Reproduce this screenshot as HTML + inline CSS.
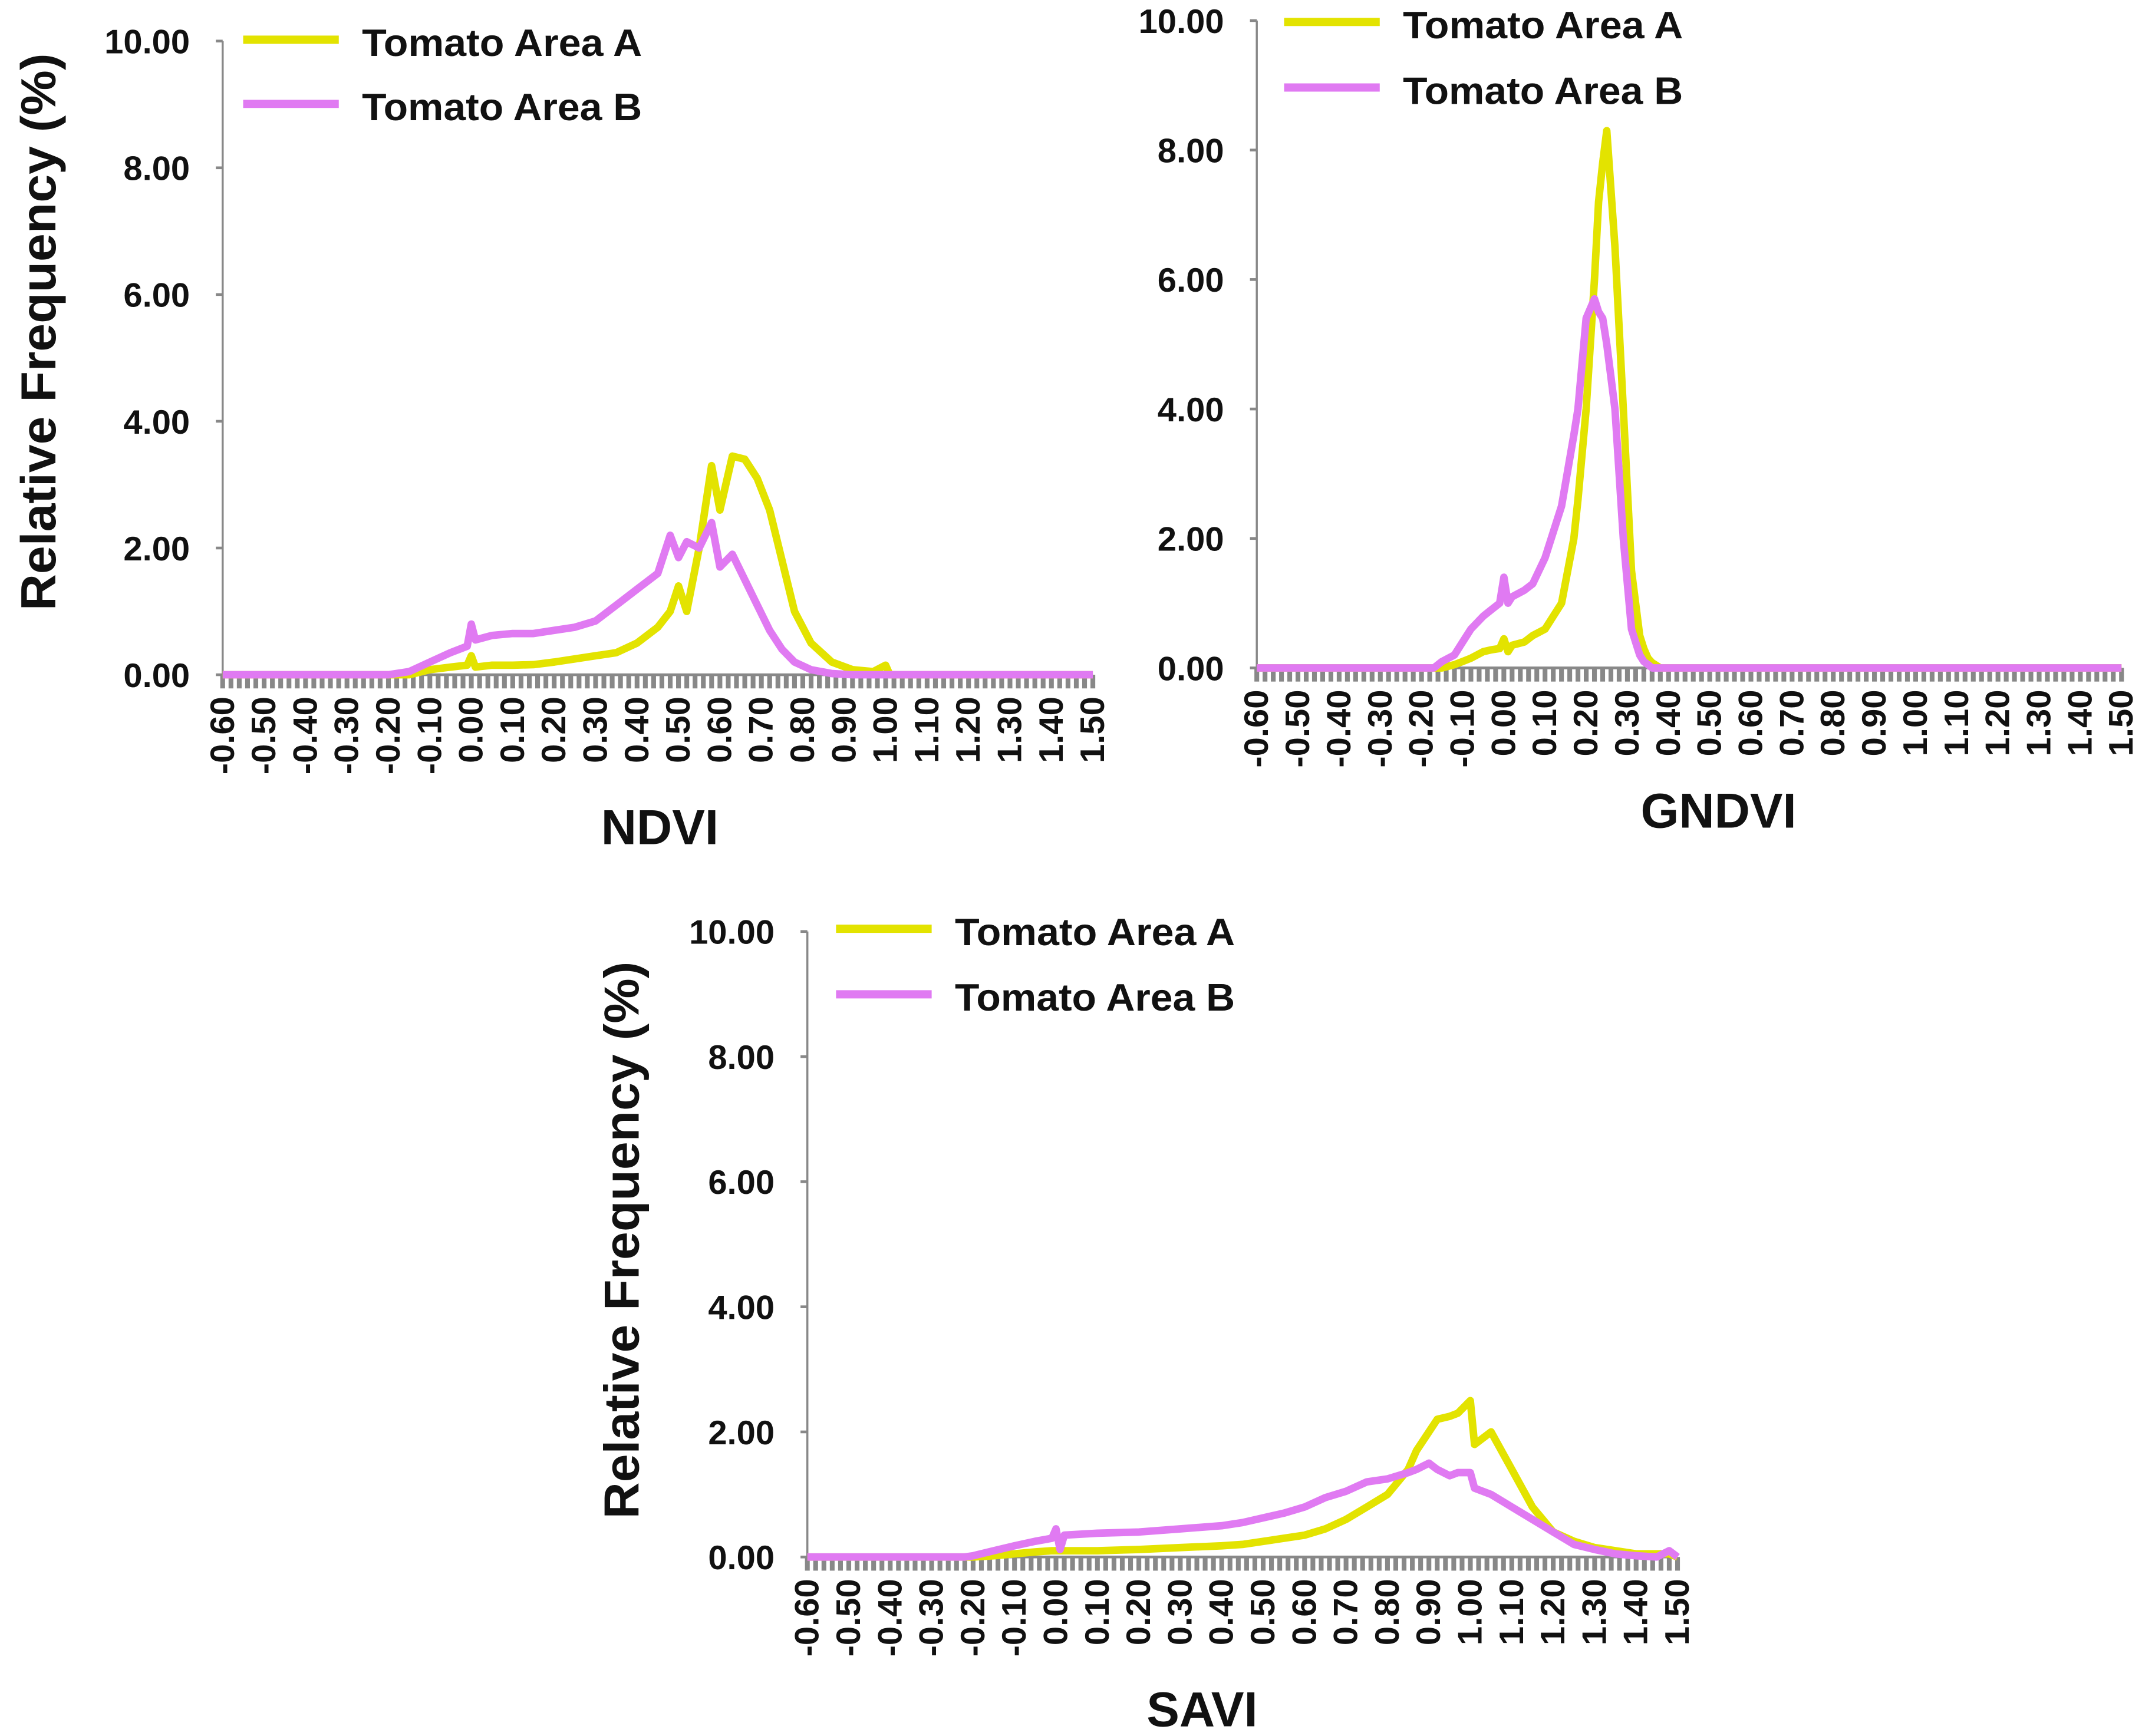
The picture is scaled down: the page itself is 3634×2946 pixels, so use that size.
<!DOCTYPE html>
<html><head><meta charset="utf-8"><style>
html,body{margin:0;padding:0;background:#fff;}
svg{display:block;}
text{font-family:"Liberation Sans",sans-serif;font-weight:bold;fill:#111;}
</style></head><body>
<svg id="fig" width="3634" height="2946" viewBox="0 0 1568 1271" xmlns="http://www.w3.org/2000/svg"></svg>
<script>
const yTicks = [0, 2, 4, 6, 8, 10];
const xTickLabels = ["-0.60","-0.50","-0.40","-0.30","-0.20","-0.10","0.00","0.10","0.20","0.30","0.40","0.50","0.60","0.70","0.80","0.90","1.00","1.10","1.20","1.30","1.40","1.50"];
const seriesNames = ["Tomato Area A", "Tomato Area B"];

const ndviX = [-0.6,-0.2,-0.15,-0.1,-0.05,-0.01,0.0,0.01,0.05,0.1,0.15,0.2,0.25,0.3,0.35,0.4,0.45,0.48,0.5,0.52,0.55,0.58,0.6,0.63,0.66,0.69,0.72,0.75,0.78,0.82,0.87,0.92,0.97,1.0,1.01,1.05,1.5];
const ndviA = [0,0,0,0.08,0.12,0.15,0.3,0.12,0.15,0.15,0.16,0.2,0.25,0.3,0.35,0.5,0.75,1.0,1.4,1.0,2.0,3.3,2.6,3.45,3.4,3.1,2.6,1.8,1.0,0.5,0.2,0.08,0.05,0.15,0,0,0];
const ndviB = [0,0,0.05,0.2,0.35,0.45,0.8,0.55,0.62,0.65,0.65,0.7,0.75,0.85,1.1,1.35,1.6,2.2,1.85,2.1,2.0,2.4,1.7,1.9,1.5,1.1,0.7,0.4,0.2,0.08,0.02,0,0,0,0,0,0];

const gndviX = [-0.6,-0.17,-0.15,-0.12,-0.1,-0.08,-0.05,-0.03,-0.01,0.0,0.01,0.02,0.05,0.07,0.1,0.14,0.17,0.18,0.2,0.22,0.23,0.24,0.25,0.27,0.29,0.31,0.33,0.34,0.35,0.36,0.38,1.5];
const gndviA = [0,0,0,0.05,0.1,0.15,0.25,0.28,0.3,0.45,0.25,0.35,0.4,0.5,0.6,1.0,2.0,2.6,4.0,6.0,7.2,7.8,8.3,6.5,4.0,1.5,0.5,0.3,0.15,0.08,0,0];
const gndviB = [0,0,0.1,0.2,0.4,0.6,0.8,0.9,1.0,1.4,1.0,1.1,1.2,1.3,1.7,2.5,3.6,4.0,5.4,5.7,5.5,5.4,5.0,4.0,2.0,0.6,0.2,0.1,0.05,0,0,0];

const saviX = [-0.6,-0.22,-0.2,-0.15,-0.1,-0.05,-0.01,0.0,0.01,0.02,0.1,0.2,0.3,0.4,0.45,0.55,0.6,0.65,0.7,0.75,0.8,0.85,0.87,0.9,0.92,0.95,0.97,1.0,1.01,1.05,1.1,1.15,1.2,1.25,1.3,1.35,1.4,1.45,1.48,1.5];
const saviA = [0,0,0,0.02,0.05,0.08,0.1,0.1,0.1,0.1,0.1,0.12,0.15,0.18,0.2,0.3,0.35,0.45,0.6,0.8,1.0,1.4,1.7,2.0,2.2,2.25,2.3,2.5,1.8,2.0,1.4,0.8,0.4,0.25,0.15,0.1,0.05,0.05,0.05,0];
const saviB = [0,0,0.02,0.1,0.18,0.25,0.3,0.45,0.12,0.35,0.38,0.4,0.45,0.5,0.55,0.7,0.8,0.95,1.05,1.2,1.25,1.35,1.4,1.5,1.4,1.3,1.35,1.35,1.1,1.0,0.8,0.6,0.4,0.2,0.12,0.05,0.02,0,0.1,0];

const NS = "http://www.w3.org/2000/svg";
const svg = document.getElementById("fig");
function el(tag, attrs, parent){
  const e = document.createElementNS(NS, tag);
  for (const k in attrs) e.setAttribute(k, attrs[k]);
  (parent||svg).appendChild(e);
  return e;
}
const colors = ["#e3e300", "#e07af2"];

function drawChart(cfg){
  const g = el("g", {});
  
  
  const sx = v => cfg.x0 + (v + 0.6) / 2.1 * (cfg.x1 - cfg.x0);
  const sy = v => cfg.y0 - v / 10 * (cfg.y0 - cfg.yTop);
  const ya = el("line", {x1:cfg.x0, y1:cfg.yTop, x2:cfg.x0, y2:cfg.y0, stroke:"#888", "stroke-width":1.5}, g);
  
  
  yTicks.forEach(t => {
    el("line", {x1:cfg.x0-5, y1:sy(t), x2:cfg.x0, y2:sy(t), stroke:"#888", "stroke-width":2}, g);
    const tx = el("text", {x:cfg.x0-24, y:sy(t)+9, "font-size":25, "text-anchor":"end"}, g);
    tx.textContent = t.toFixed(2);
    
    
  });
  const xa = el("line", {x1:cfg.x0, y1:cfg.y0, x2:cfg.x1, y2:cfg.y0, stroke:"#888", "stroke-width":2}, g);
  
  
  for (let i = 0; i <= 105; i++){
    const v = -0.6 + i * 0.02;
    el("line", {x1:sx(v), y1:cfg.y0, x2:sx(v), y2:cfg.y0+10, stroke:"#888", "stroke-width":3.5}, g);
  }
  xTickLabels.forEach(lbl => {
    const v = parseFloat(lbl);
    const x = sx(v), y = cfg.y0 + 16;
    const tx = el("text", {x:x, y:y, "font-size":25, "text-anchor":"end", "dominant-baseline":"central", transform:`rotate(-90 ${x} ${y})`}, g);
    tx.textContent = lbl;
    
    
  });
  [cfg.a, cfg.b].forEach((ys, si) => {
    const pts = cfg.xs.map((xv, i) => sx(xv).toFixed(1) + "," + sy(ys[i]).toFixed(1)).join(" ");
    const pl = el("polyline", {points:pts, fill:"none", stroke:colors[si], "stroke-width":5.5, "stroke-linejoin":"round"}, g);
    
    
  });
  seriesNames.forEach((n, i) => {
    const ly = cfg.legY[i];
    const ll = el("line", {x1:cfg.legX, y1:ly, x2:cfg.legX+70, y2:ly, stroke:colors[i], "stroke-width":6}, g);
    
    
    const lt = el("text", {x:cfg.legX+87, y:ly+12, "font-size":28, textLength:205, lengthAdjust:"spacingAndGlyphs"}, g);
    lt.textContent = n;
    
    
  });
  const xt = el("text", {x:cfg.titleX, y:cfg.titleY, "font-size":36, "text-anchor":"middle"}, g);
  xt.textContent = cfg.title;
  
  
  if (cfg.yTitleX){
    const x = cfg.yTitleX, y = cfg.yTitleY;
    const yt = el("text", {x:x, y:y, "font-size":36, "text-anchor":"middle", "dominant-baseline":"central", textLength:408, lengthAdjust:"spacingAndGlyphs", transform:`rotate(-90 ${x} ${y})`}, g);
    yt.textContent = "Relative Frequency  (%)";
    
    
  }
}

drawChart({name:"ndvi", x0:163, x1:800, yTop:30, y0:494, xs:ndviX, a:ndviA, b:ndviB, legX:178, legY:[29,76], title:"NDVI", titleX:483, titleY:618, yTitleX:28, yTitleY:243});
drawChart({name:"gndvi", x0:920, x1:1553, yTop:15, y0:489, xs:gndviX, a:gndviA, b:gndviB, legX:940, legY:[16,64], title:"GNDVI", titleX:1258, titleY:606});
drawChart({name:"savi", x0:591, x1:1228, yTop:682, y0:1140, xs:saviX, a:saviA, b:saviB, legX:612, legY:[680,728], title:"SAVI", titleX:880, titleY:1264, yTitleX:455, yTitleY:908});
</script>
</body></html>
